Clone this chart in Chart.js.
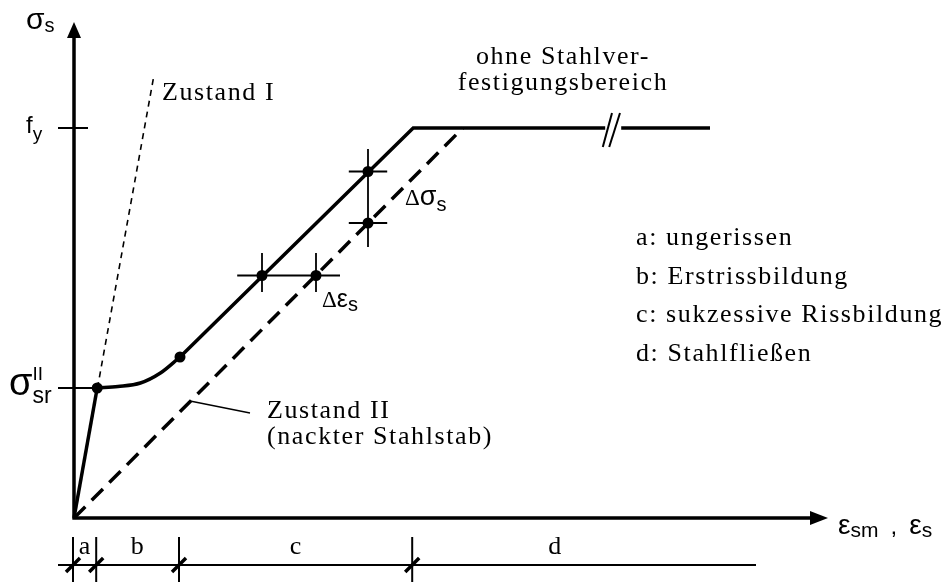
<!DOCTYPE html>
<html>
<head>
<meta charset="utf-8">
<script src="https://cdn.jsdelivr.net/npm/chart.js@4.4.1/dist/chart.umd.min.js"></script>
<style>
  html, body { margin: 0; padding: 0; background: #fff; }
  #wrap { width: 952px; height: 582px; }
</style>
</head>
<body>
<div id="wrap"><canvas id="chart" width="952" height="582"></canvas></div>
<script>
// Spannungs-Dehnungs-Linie eines Stahlbetonzugglieds (schematisch, Einheiten beliebig)
const fy = 78;        // Fließspannung
const sigmaSr = 26;   // Rissspannung

// Zustand I (ungerissen, steil)
const zustandIEps = [0, 10];
const zustandISig = [0, 88.6];

// Zustand II (nackter Stahlstab)
const zustandIIEps = [0, 48.6];
const zustandIISig = [0, 78];

// a: ungerissen
const stageAEps = [0, 2.9];
const stageASig = [0, 26];

// b: Erstrissbildung (gekrümmt)
const stageBEps = [2.9, 5.5, 8.3, 10.8, 13.25];
const stageBSig = [26, 26.3, 27, 29, 32.2];

// c: sukzessive Rissbildung, d: Stahlfließen (mit Unterbrechung)
const stageCDEps = [13.25, 42.4, 66.4];
const stageCDSig = [32.2, 78, 78];
const stageDTailEps = [68.4, 79.5];
const stageDTailSig = [78, 78];

// markierte Punkte
const dotEps = [2.9, 13.25, 36.75, 36.75, 23.5, 30.25];
const dotSig = [26, 32.2, 69.3, 59.0, 48.5, 48.5];

// Bereichsgrenzen unten
const phaseBounds = [0, 2.9, 13.25, 42.4];
const phaseLabels = ['a', 'b', 'c', 'd'];
const phaseLabelEps = [1.4, 8, 27.8, 60.2];

const legendLines = [
  'a: ungerissen',
  'b: Erstrissbildung',
  'c: sukzessive Rissbildung',
  'd: Stahlfließen'
];

const SANS = '"Liberation Sans", Arial, sans-serif';
const SERIF = '"Liberation Serif", "Times New Roman", serif';

function pts(xs, ys) {
  return xs.map((x, i) => ({ x: x, y: ys[i] }));
}

function seg(x1, y1, x2, y2, width, dash) {
  return {
    data: [{ x: x1, y: y1 }, { x: x2, y: y2 }],
    borderColor: '#000',
    borderWidth: width,
    borderDash: dash || [],
    pointRadius: 0,
    showLine: true,
    tension: 0,
    clip: false
  };
}

// Text mit Index / Exponent nacheinander zeichnen
function drawParts(ctx, x, y, parts) {
  let cx = x;
  parts.forEach(p => {
    ctx.font = p.size + 'px ' + (p.font || SANS);
    ctx.fillText(p.t, cx, y + (p.dy || 0));
    if (!p.noAdvance) cx += ctx.measureText(p.t).width + (p.gap || 0);
  });
}

const diagramPlugin = {
  id: 'diagram',
  beforeDatasetsDraw(chart) {
    const ctx = chart.ctx;
    const xs = chart.scales.x, ys = chart.scales.y;
    const x0 = xs.getPixelForValue(0), y0 = ys.getPixelForValue(0);
    const yTip = ys.getPixelForValue(99.2);
    const xTip = xs.getPixelForValue(94.25);

    ctx.save();
    ctx.strokeStyle = '#000';
    ctx.fillStyle = '#000';
    ctx.lineWidth = 3.5;
    ctx.beginPath();
    ctx.moveTo(x0, y0 + 1.5);
    ctx.lineTo(x0, yTip + 14);
    ctx.moveTo(x0 - 1.5, y0);
    ctx.lineTo(xTip - 16, y0);
    ctx.stroke();

    // Pfeilspitzen
    ctx.beginPath();
    ctx.moveTo(x0, yTip);
    ctx.lineTo(x0 - 7, yTip + 16);
    ctx.lineTo(x0 + 7, yTip + 16);
    ctx.closePath();
    ctx.fill();
    ctx.beginPath();
    ctx.moveTo(xTip, y0);
    ctx.lineTo(xTip - 18, y0 - 7);
    ctx.lineTo(xTip - 18, y0 + 7);
    ctx.closePath();
    ctx.fill();

    // Achsmarken fy und sigma_sr
    ctx.lineWidth = 2;
    const yFy = ys.getPixelForValue(fy), ySr = ys.getPixelForValue(sigmaSr);
    ctx.beginPath();
    ctx.moveTo(x0 - 16, yFy); ctx.lineTo(x0 + 14, yFy);
    ctx.moveTo(x0 - 16, ySr); ctx.lineTo(xs.getPixelForValue(stageAEps[1]), ySr);
    ctx.stroke();

    // Bereichsleiste unten
    const yBar = y0 + 47;
    ctx.lineWidth = 2;
    ctx.beginPath();
    ctx.moveTo(x0 - 16, yBar);
    ctx.lineTo(xs.getPixelForValue(85.25), yBar);
    phaseBounds.forEach(b => {
      const px = xs.getPixelForValue(b) - 1;
      ctx.moveTo(px, y0 + 19);
      ctx.lineTo(px, chart.height);
    });
    ctx.stroke();
    ctx.lineWidth = 3.5;
    ctx.beginPath();
    phaseBounds.forEach(b => {
      const px = xs.getPixelForValue(b) - 1;
      ctx.moveTo(px - 7, yBar + 7);
      ctx.lineTo(px + 7, yBar - 7);
    });
    ctx.stroke();
    ctx.restore();
  },
  afterDraw(chart) {
    const ctx = chart.ctx;
    const xs = chart.scales.x, ys = chart.scales.y;
    const y0 = ys.getPixelForValue(0);
    const yFy = ys.getPixelForValue(fy), ySr = ys.getPixelForValue(sigmaSr);

    ctx.save();
    ctx.fillStyle = '#000';
    ctx.textBaseline = 'alphabetic';
    ctx.textAlign = 'left';

    // Achsbeschriftungen
    drawParts(ctx, 26, 29, [{ t: 'σ', size: 30 }, { t: 's', size: 20, dy: 3 }]);
    drawParts(ctx, 26, yFy + 5, [{ t: 'f', size: 24 }, { t: 'y', size: 19, dy: 7 }]);
    drawParts(ctx, 9, ySr + 7, [
      { t: 'σ', size: 38 },
      { t: 'II', size: 19, dy: -15, noAdvance: true },
      { t: 'sr', size: 23, dy: 8 }
    ]);
    drawParts(ctx, 838, y0 + 16, [
      { t: 'ε', size: 28 }, { t: 'sm', size: 21, dy: 3, gap: 12 },
      { t: ',', size: 24, gap: 12 },
      { t: 'ε', size: 28 }, { t: 's', size: 21, dy: 3 }
    ]);
    drawParts(ctx, 405, 205, [
      { t: 'Δ', size: 23, font: SERIF }, { t: 'σ', size: 27 }, { t: 's', size: 20, dy: 6 }
    ]);
    drawParts(ctx, 322, 307, [
      { t: 'Δ', size: 23, font: SERIF }, { t: 'ε', size: 25 }, { t: 's', size: 20, dy: 4 }
    ]);

    // Serifentexte
    ctx.font = '26px ' + SERIF;
    ctx.letterSpacing = '1.6px';
    ctx.fillText('Zustand I', 162, 100);
    ctx.fillText('Zustand II', 267, 418);
    ctx.fillText('(nackter Stahlstab)', 267, 444);
    legendLines.forEach((t, i) => ctx.fillText(t, 636, 245 + i * 38.5));
    ctx.textAlign = 'center';
    ctx.fillText('ohne Stahlver-', 563, 64);
    ctx.fillText('festigungsbereich', 563, 90);
    phaseLabels.forEach((t, i) => ctx.fillText(t, xs.getPixelForValue(phaseLabelEps[i]), y0 + 36));
    ctx.restore();
  }
};

const datasets = [
  // Zustand I
  seg(zustandIEps[0], zustandISig[0], zustandIEps[1], zustandISig[1], 1.6, [6, 5]),
  // Zustand II
  {
    data: pts(zustandIIEps, zustandIISig),
    borderColor: '#000', borderWidth: 3.5, borderDash: [16, 9],
    pointRadius: 0, showLine: true, tension: 0, clip: false
  },
  {
    data: pts(stageAEps, stageASig),
    borderColor: '#000', borderWidth: 3.5, pointRadius: 0, showLine: true, tension: 0, clip: false
  },
  {
    data: pts(stageBEps, stageBSig),
    borderColor: '#000', borderWidth: 3.5, pointRadius: 0, showLine: true,
    cubicInterpolationMode: 'monotone', clip: false
  },
  {
    data: pts(stageCDEps, stageCDSig),
    borderColor: '#000', borderWidth: 3.5, pointRadius: 0, showLine: true, tension: 0,
    borderJoinStyle: 'miter', clip: false
  },
  {
    data: pts(stageDTailEps, stageDTailSig),
    borderColor: '#000', borderWidth: 3.5, pointRadius: 0, showLine: true, tension: 0, clip: false
  },
  // Unterbrechung //
  seg(66.1, 74.2, 67.25, 81, 2),
  seg(66.9, 74.2, 68.25, 81, 2),
  // Hinweislinie Zustand II
  seg(14.5, 23.4, 22, 21, 1.5),
  // Delta sigma
  seg(36.75, 73.8, 36.75, 54.2, 1.8),
  seg(34.35, 69.3, 39.15, 69.3, 1.8),
  seg(34.35, 59.0, 39.15, 59.0, 1.8),
  // Delta epsilon
  seg(20.4, 48.5, 33.25, 48.5, 1.8),
  seg(23.5, 53, 23.5, 45.2, 1.8),
  seg(30.25, 53, 30.25, 45.2, 1.8),
  // Punkte
  {
    data: pts(dotEps, dotSig),
    showLine: false,
    pointRadius: 5.5,
    pointBackgroundColor: '#000',
    pointBorderColor: '#000',
    pointBorderWidth: 0,
    clip: false
  }
];

new Chart(document.getElementById('chart').getContext('2d'), {
  type: 'scatter',
  data: { datasets: datasets },
  options: {
    responsive: false,
    animation: false,
    devicePixelRatio: 1,
    layout: { padding: { left: 74, right: 78, top: 18, bottom: 64 } },
    plugins: { legend: { display: false }, tooltip: { enabled: false } },
    scales: {
      x: { type: 'linear', min: 0, max: 100, display: false },
      y: { type: 'linear', min: 0, max: 100, display: false }
    }
  },
  plugins: [diagramPlugin]
});
</script>
</body>
</html>
